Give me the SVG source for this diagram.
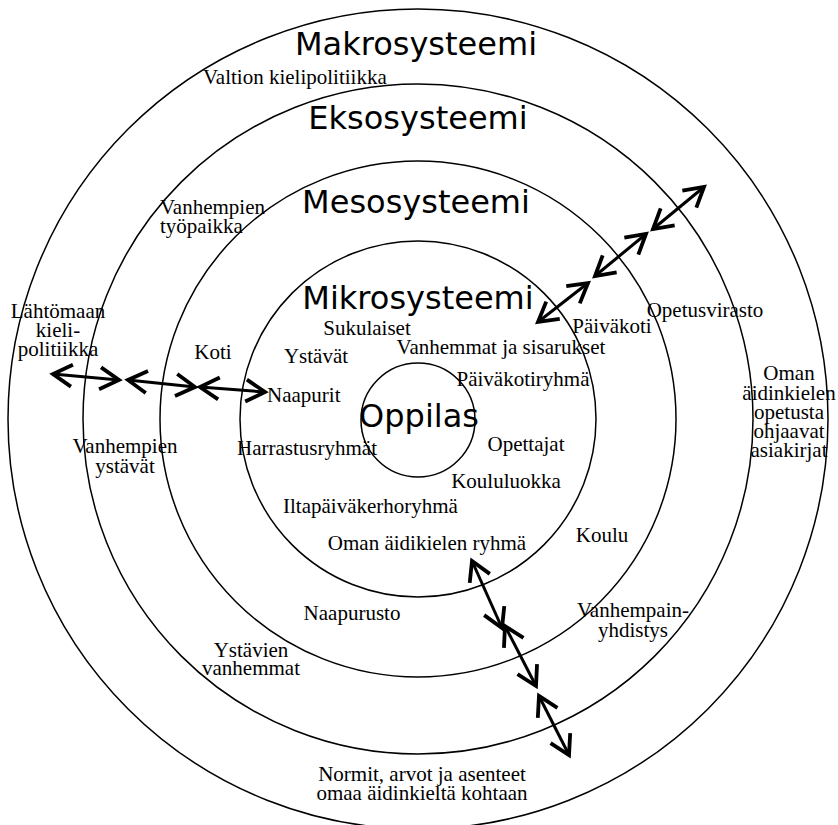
<svg xmlns="http://www.w3.org/2000/svg" width="838" height="825" viewBox="0 0 838 825">
<style>
.ring{fill:none;stroke:#000;stroke-width:1.5}
.title{font-family:"DejaVu Sans",sans-serif;font-size:32px;fill:#000;text-anchor:middle}
.lbl{font-family:"Liberation Serif",serif;font-size:21px;fill:#000;text-anchor:middle}
.st{text-anchor:start}
.arr{stroke:#000;stroke-width:3;fill:none;marker-start:url(#chev);marker-end:url(#chev)}
</style>
<defs>
<marker id="chev" markerUnits="userSpaceOnUse" viewBox="-24 -14 28 28" refX="0" refY="0" markerWidth="28" markerHeight="28" orient="auto-start-reverse">
<path d="M-19 -11 L0 0 L-19 11" fill="none" stroke="#000" stroke-width="3.8" stroke-linejoin="miter"/>
</marker>
</defs>
<rect width="838" height="825" fill="#fff"/>
<g id="makrosysteemi">
<circle class="ring" cx="418" cy="419" r="410"/>
<text class="title" x="416" y="55">Makrosysteemi</text>
<text class="lbl st" x="203" y="84">Valtion kielipolitiikka</text>
<text class="lbl" x="58" y="318">Lähtömaan</text>
<text class="lbl" x="58" y="337">kieli-</text>
<text class="lbl" x="58" y="356">politiikka</text>
<text class="lbl" x="789" y="380">Oman</text>
<text class="lbl" x="789" y="400">äidinkielen</text>
<text class="lbl" x="789" y="419">opetusta</text>
<text class="lbl" x="789" y="438">ohjaavat</text>
<text class="lbl" x="789" y="457">asiakirjat</text>
<text class="lbl" x="422" y="781">Normit, arvot ja asenteet</text>
<text class="lbl" x="422" y="800">omaa äidinkieltä kohtaan</text>
</g>
<g id="eksosysteemi">
<circle class="ring" cx="418" cy="419" r="335"/>
<text class="title" x="418" y="129">Eksosysteemi</text>
<text class="lbl st" x="160" y="214">Vanhempien</text>
<text class="lbl st" x="160" y="233">työpaikka</text>
<text class="lbl" x="125" y="453">Vanhempien</text>
<text class="lbl" x="125" y="473">ystävät</text>
<text class="lbl" x="705" y="317">Opetusvirasto</text>
<text class="lbl" x="633" y="617">Vanhempain-</text>
<text class="lbl" x="633" y="637">yhdistys</text>
<text class="lbl" x="251" y="657">Ystävien</text>
<text class="lbl" x="251" y="675">vanhemmat</text>
</g>
<g id="mesosysteemi">
<circle class="ring" cx="418" cy="419" r="258"/>
<text class="title" x="416" y="213">Mesosysteemi</text>
<text class="lbl" x="213" y="359">Koti</text>
<text class="lbl" x="612" y="333">Päiväkoti</text>
<text class="lbl" x="602" y="542">Koulu</text>
<text class="lbl" x="352" y="620">Naapurusto</text>
</g>
<g id="mikrosysteemi">
<circle class="ring" cx="418" cy="419" r="178"/>
<text class="title" x="418" y="309">Mikrosysteemi</text>
<text class="lbl" x="367" y="335">Sukulaiset</text>
<text class="lbl" x="316" y="363">Ystävät</text>
<text class="lbl" x="501" y="354">Vanhemmat ja sisarukset</text>
<text class="lbl" x="523" y="386">Päiväkotiryhmä</text>
<text class="lbl st" x="267" y="402">Naapurit</text>
<text class="lbl" x="307" y="455">Harrastusryhmät</text>
<text class="lbl" x="526" y="451">Opettajat</text>
<text class="lbl" x="506" y="488">Koululuokka</text>
<text class="lbl st" x="283" y="513">Iltapäiväkerhoryhmä</text>
<text class="lbl" x="427" y="550">Oman äidikielen ryhmä</text>
</g>
<g id="oppilas">
<circle class="ring" cx="418" cy="420" r="57"/>
<text class="title" x="419" y="427">Oppilas</text>
</g>
<g id="connectors">
<line class="arr" x1="53" y1="374" x2="119" y2="380"/>
<line class="arr" x1="128" y1="380" x2="195" y2="387"/>
<line class="arr" x1="200" y1="387" x2="265" y2="392"/>
<line class="arr" x1="538" y1="322" x2="588" y2="283"/>
<line class="arr" x1="595" y1="276" x2="646" y2="234"/>
<line class="arr" x1="653" y1="229" x2="704" y2="187"/>
<line class="arr" x1="472" y1="561" x2="502" y2="628"/>
<line class="arr" x1="505" y1="626" x2="536" y2="686"/>
<line class="arr" x1="539" y1="696" x2="569" y2="755"/>
</g>
</svg>
